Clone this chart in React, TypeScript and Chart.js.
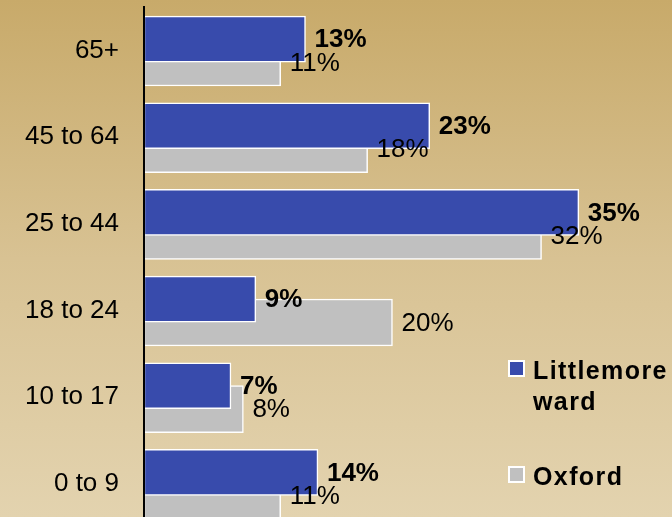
import React, { useEffect, useRef } from "react";
import { Chart, registerables } from "chart.js";

Chart.register(...registerables);

const categories = ["65+", "45 to 64", "25 to 44", "18 to 24", "10 to 17", "0 to 9"];
const littlemore = [13, 23, 35, 9, 7, 14];
const oxford = [11, 18, 32, 20, 8, 11];
const seriesNames = ["Littlemore ward", "Oxford"];
const seriesColors = ["#384BAC", "#C0C0C0"];

const FONT = 'Arial, "Liberation Sans", sans-serif';

const labelPlugin = {
  id: "valueLabels",
  afterDatasetsDraw(chart: any) {
    const ctx = chart.ctx;
    ctx.save();
    ctx.textBaseline = "middle";
    ctx.textAlign = "left";
    ctx.fillStyle = "#000";
    [1, 0].forEach((di) => {
      const meta = chart.getDatasetMeta(di);
      const ds = chart.data.datasets[di];
      ctx.font = (di === 0 ? "bold " : "") + "26px " + FONT;
      meta.data.forEach((el: any, i: number) => {
        const v = ds.data[i].x;
        ctx.fillText(v + "%", el.x + 9, el.y + 1);
      });
    });
    ctx.restore();
  },
};

export default function App() {
  const ref = useRef<HTMLCanvasElement>(null);
  useEffect(() => {
    const n = categories.length;
    const chart = new Chart(ref.current!, {
      type: "bar",
      data: {
        labels: categories,
        datasets: [
          {
            label: seriesNames[0],
            data: littlemore.map((v, i) => ({ x: v, y: i })),
            backgroundColor: seriesColors[0],
            borderColor: "#FFFFFF",
            borderWidth: 1.5,
            borderSkipped: false,
            grouped: false,
            barThickness: 46,
            yAxisID: "yBlue",
          } as any,
          {
            label: seriesNames[1],
            data: oxford.map((v, i) => ({ x: v, y: i })),
            backgroundColor: seriesColors[1],
            borderColor: "#FFFFFF",
            borderWidth: 1.5,
            borderSkipped: false,
            grouped: false,
            barThickness: 47,
            yAxisID: "yGrey",
          } as any,
        ],
      },
      options: {
        indexAxis: "y",
        animation: false,
        responsive: false,
        maintainAspectRatio: false,
        layout: { padding: { top: 7, bottom: 13, left: 0, right: 0 } },
        plugins: { legend: { display: false }, tooltip: { enabled: false } },
        scales: {
          x: { type: "linear", min: 0, max: 42.5, display: false },
          y: {
            type: "category",
            axis: "y",
            offset: true,
            grid: { display: false, drawTicks: false },
            border: { display: true, color: "#000", width: 2, z: 1 },
            ticks: { color: "#000", padding: 25, font: { family: FONT, size: 26 } },
            afterFit: (s: any) => {
              s.width = 144;
              s.paddingTop = 0;
              s.paddingBottom = 0;
            },
          },
          yBlue: {
            type: "linear",
            axis: "y",
            display: false,
            reverse: true,
            min: -0.5 + 0.13,
            max: n - 0.5 + 0.13,
            afterBuildTicks: (s: any) => {
              s.ticks = [];
            },
          },
          yGrey: {
            type: "linear",
            axis: "y",
            display: false,
            reverse: true,
            min: -0.5 - 0.14,
            max: n - 0.5 - 0.14,
            afterBuildTicks: (s: any) => {
              s.ticks = [];
            },
          },
        } as any,
      },
      plugins: [labelPlugin],
    });
    return () => chart.destroy();
  }, []);

  const legendText: React.CSSProperties = {
    position: "absolute",
    fontFamily: FONT,
    fontWeight: "bold",
    fontSize: 25,
    letterSpacing: 1.4,
    lineHeight: "31px",
    color: "#000",
    whiteSpace: "nowrap",
  };
  const square = (color: string): React.CSSProperties => ({
    position: "absolute",
    width: 13,
    height: 13,
    background: color,
    border: "2px solid #FFFFFF",
  });

  return (
    <div
      style={{
        position: "fixed",
        left: 0,
        top: 0,
        width: 672,
        height: 517,
        overflow: "hidden",
        background: "linear-gradient(to bottom, #C8AA6A 0%, #D8C293 50%, #E3D3AF 100%)",
      }}
    >
      <canvas ref={ref} width={672} height={540} style={{ position: "absolute", left: 0, top: 0 }} />
      <div style={{ ...square(seriesColors[0]), left: 508, top: 360 }} />
      <div style={{ ...legendText, left: 533, top: 355 }}>
        Littlemore
        <br />
        ward
      </div>
      <div style={{ ...square(seriesColors[1]), left: 508, top: 466 }} />
      <div style={{ ...legendText, left: 533, top: 461 }}>{seriesNames[1]}</div>
    </div>
  );
}
